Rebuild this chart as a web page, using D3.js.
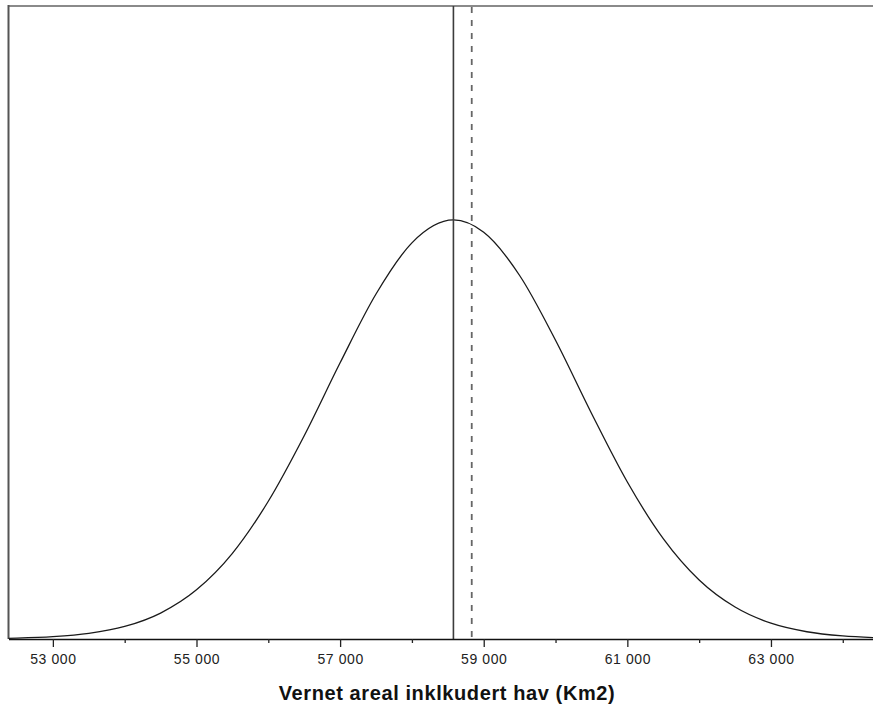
<!DOCTYPE html>
<html lang="no">
<head>
  <meta charset="UTF-8">
  <title>Vernet areal</title>
  <style>
    body { margin: 0; background: #fff; }
    #chart { width: 873px; height: 706px; }
    text { font-family: "Liberation Sans", Arial, sans-serif; }
  </style>
</head>
<body>
  <div id="chart"></div>
  <script src="https://cdn.jsdelivr.net/npm/d3@7"></script>
  <script>
    // kurve lest av bildet (tetthet x 10^4)
    const areal = [52000, 52500, 53000, 53500, 54000, 54500, 55000, 55500, 56000, 56500, 57000, 57500, 58000,
      58578, 59000, 59500, 60000, 60500, 61000, 61500, 62000, 62500, 63000, 63500, 64000, 64500];
    const tetthet = [0.002, 0.005, 0.013, 0.031, 0.069, 0.143, 0.271, 0.472, 0.759, 1.120, 1.522, 1.901, 2.183,
      2.309, 2.241, 2.003, 1.646, 1.244, 0.865, 0.553, 0.325, 0.176, 0.087, 0.040, 0.017, 0.007];
    const majorTicks = [53000, 55000, 57000, 59000, 61000, 63000];
    const minorTicks = [54000, 56000, 58000, 60000, 62000, 64000];
    const gjennomsnitt = 58578; // heltrukken linje
    const referanse = 58833;    // stiplet linje
    const tittel = 'Vernet areal inklkudert hav (Km2)';

    const width = 873, height = 706;
    const mLeft = 8.5, mRight = 873, mTop = 6, mBottom = 639;

    const svg = d3.select('#chart').append('svg')
      .attr('width', width)
      .attr('height', height);

    const x = d3.scaleLinear().domain([52382, 64421]).range([mLeft, mRight]);
    const y = d3.scaleLinear().domain([0, 3.488]).range([mBottom, mTop]);

    const fmt = d3.formatLocale({ decimal: ',', thousands: '\u00a0', grouping: [3], currency: ['', ''] }).format(',d');

    svg.append('defs').append('clipPath').attr('id', 'clip')
      .append('rect').attr('x', mLeft).attr('y', mTop).attr('width', mRight - mLeft).attr('height', mBottom - mTop);

    // kant
    svg.append('line').attr('x1', mLeft).attr('x2', mRight).attr('y1', mTop).attr('y2', mTop)
      .attr('stroke', '#8a8a8a').attr('stroke-width', 2);
    svg.append('line').attr('x1', mLeft).attr('x2', mLeft).attr('y1', mTop - 1).attr('y2', mBottom)
      .attr('stroke', '#555').attr('stroke-width', 2);

    const g = svg.append('g').attr('clip-path', 'url(#clip)');

    const pts = areal.map((d, i) => [d, tetthet[i]]);
    const line = d3.line()
      .x(d => x(d[0]))
      .y(d => y(d[1]))
      .curve(d3.curveMonotoneX);

    g.append('path')
      .datum(pts)
      .attr('d', line)
      .attr('fill', 'none')
      .attr('stroke', '#1a1a1a')
      .attr('stroke-width', 1.3);

    g.append('line')
      .attr('x1', x(gjennomsnitt)).attr('x2', x(gjennomsnitt))
      .attr('y1', mTop).attr('y2', mBottom)
      .attr('stroke', '#3c3c3c').attr('stroke-width', 1.6);

    g.append('line')
      .attr('x1', x(referanse)).attr('x2', x(referanse))
      .attr('y1', mTop + 1).attr('y2', mBottom)
      .attr('stroke', '#666').attr('stroke-width', 1.8)
      .attr('stroke-dasharray', '6,7');

    // x-akse
    const axisMajor = d3.axisBottom(x).tickValues(majorTicks).tickSize(8).tickSizeOuter(0).tickFormat(fmt);
    const axisMinor = d3.axisBottom(x).tickValues(minorTicks).tickSize(4).tickSizeOuter(0).tickFormat('');

    const ax = svg.append('g').attr('transform', `translate(0,${mBottom})`).call(axisMajor);
    ax.select('.domain').attr('stroke', '#111').attr('stroke-width', 1.5);
    ax.selectAll('.tick line').attr('stroke', '#222').attr('stroke-width', 1.3);
    ax.selectAll('.tick text')
      .attr('font-size', 14)
      .attr('letter-spacing', 0.6)
      .attr('fill', '#222')
      .attr('dy', null)
      .attr('y', 25);

    const axm = svg.append('g').attr('transform', `translate(0,${mBottom})`).call(axisMinor);
    axm.select('.domain').remove();
    axm.selectAll('.tick line').attr('stroke', '#222').attr('stroke-width', 1.3);

    svg.append('text')
      .attr('x', 447)
      .attr('y', 700)
      .attr('text-anchor', 'middle')
      .attr('font-size', 20)
      .attr('letter-spacing', 0.6)
      .attr('font-weight', 'bold')
      .attr('fill', '#111')
      .text(tittel);
  </script>
</body>
</html>
